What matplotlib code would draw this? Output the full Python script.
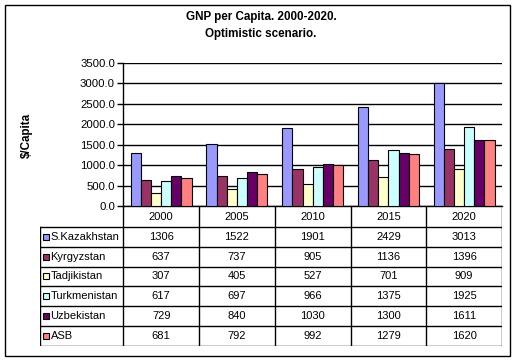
import matplotlib
matplotlib.use("Agg")
import numpy as np
from matplotlib import pyplot as plt
from matplotlib.patches import Rectangle

# data
years = ['2000', '2005', '2010', '2015', '2020']
countries = ['S.Kazakhstan', 'Kyrgyzstan', 'Tadjikistan', 'Turkmenistan', 'Uzbekistan', 'ASB']
s_kazakhstan = [1306, 1522, 1901, 2429, 3013]
kyrgyzstan = [637, 737, 905, 1136, 1396]
tadjikistan = [307, 405, 527, 701, 909]
turkmenistan = [617, 697, 966, 1375, 1925]
uzbekistan = [729, 840, 1030, 1300, 1611]
asb = [681, 792, 992, 1279, 1620]
y_ticks = [0, 500, 1000, 1500, 2000, 2500, 3000, 3500]

series = [s_kazakhstan, kyrgyzstan, tadjikistan, turkmenistan, uzbekistan, asb]
colors = ['#9999FF', '#993366', '#FFFFCC', '#CCFFFF', '#660066', '#FF8080']

plt.rcParams['font.family'] = ['Liberation Sans', 'DejaVu Sans']
FS = 8.0

W, H = 517, 362
fig = plt.figure(figsize=(W / 100, H / 100), dpi=100)

def px_box(x0, y0, x1, y1):  # pixel box (top-left origin) -> fig fraction
    return [x0 / W, 1 - y1 / H, (x1 - x0) / W, (y1 - y0) / H]

# outer chart border
fig.patches.append(Rectangle((5 / W, 1 - 355.5 / H), 505 / W, 350.5 / H,
                             transform=fig.transFigure, fill=False, ec='black', lw=1))

# title + y label
fig.text(261 / W, 1 - 17 / H, 'GNP per Capita. 2000-2020.', ha='center', va='center',
         fontsize=8.4, fontweight='bold')
fig.text(261 / W, 1 - 34 / H, 'Optimistic scenario.', ha='center', va='center',
         fontsize=8.4, fontweight='bold')
fig.text(27 / W, 1 - 135 / H, '$/Capita', rotation=90, ha='center', va='center',
         fontsize=8.4, fontweight='bold')

# bar chart
ax = fig.add_axes(px_box(123.3, 63, 502, 206))
x = np.arange(len(years))
bw = 0.134
for i, (vals, c) in enumerate(zip(series, colors)):
    ax.bar(x + (i - 2.5) * bw, vals, bw, color=c, edgecolor='black', lw=0.8, zorder=3)

ax.set_xlim(-0.5, len(years) - 0.5)
ax.set_ylim(0, 3500)
ax.set_yticks(y_ticks)
ax.set_yticklabels(['%.1f' % v for v in y_ticks], fontsize=8.2)
ax.set_xticks([])
ax.grid(axis='y', color='black', lw=1, zorder=0)
for s in ['top', 'right']:
    ax.spines[s].set_visible(False)
for s in ['left', 'bottom']:
    ax.spines[s].set_linewidth(1)
ax.tick_params(axis='y', length=4, width=1, pad=2)
ax.set_facecolor('white')

# data table under the bars
col_px = (502 - 123.3) / len(years)
leg_w = (123.3 - 40) / col_px
hdr, row_h = 21, 19.75
tab = fig.add_axes(px_box(40, 206, 502, 206 + hdr + row_h * len(countries)))
tab.set_xlim(-0.5 - leg_w, len(years) - 0.5)
tab.set_ylim(hdr + row_h * len(countries), 0)
tab.axis('off')

x_left = -0.5 - leg_w
y_bot = hdr + row_h * len(countries)
for i in range(len(countries) + 1):
    tab.plot([x_left, len(years) - 0.5], [hdr + i * row_h] * 2, color='black', lw=1)
tab.plot([x_left, x_left], [hdr, y_bot], color='black', lw=1)
for k in range(len(years) + 1):
    tab.plot([k - 0.5, k - 0.5], [0, y_bot], color='black', lw=1)

for j, yr in enumerate(years):
    tab.text(j, hdr / 2, yr, ha='center', va='center', fontsize=FS)

for i, (name, vals, c) in enumerate(zip(countries, series, colors)):
    yc = hdr + (i + 0.5) * row_h
    tab.add_patch(Rectangle((x_left + 2.5 / col_px, yc - 3), 6 / col_px, 6,
                            fc=c, ec='black', lw=0.8))
    tab.text(x_left + 10.5 / col_px, yc, name, ha='left', va='center', fontsize=FS)
    for j, v in enumerate(vals):
        tab.text(j, yc, str(v), ha='center', va='center', fontsize=FS)

fig.savefig('out.png', dpi=100)
